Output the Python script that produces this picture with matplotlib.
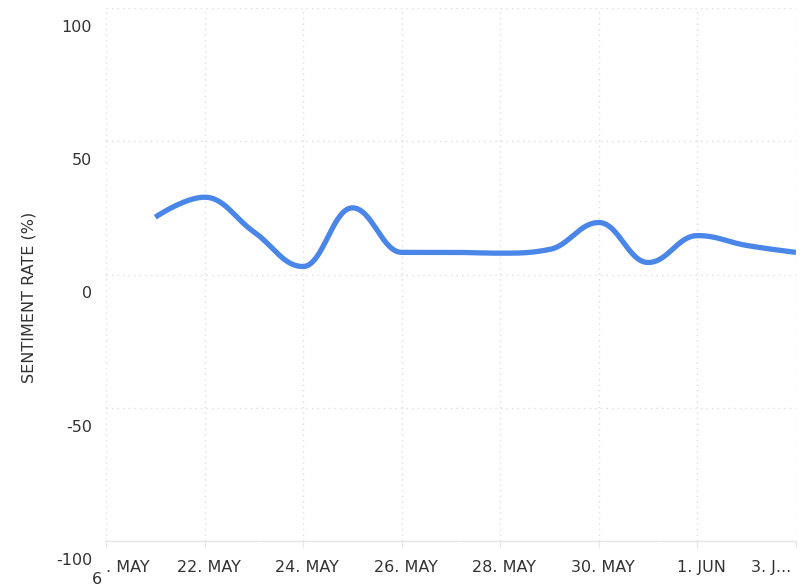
import numpy as np
import matplotlib
matplotlib.use("Agg")
import matplotlib.pyplot as plt
from matplotlib.transforms import ScaledTranslation

plt.rcParams["font.family"] = ["DejaVu Sans"]

# Data (day index: 0 = 20 May)
days = [1, 2, 3, 4, 5, 6, 7, 8, 9, 10, 11, 12, 13, 14]
values = [21.5, 29, 16, 3, 25, 8.3, 8.3, 8.0, 9.4, 19.5, 4.5, 14.6, 10.9, 8.3]
tick_days = [0, 2, 4, 6, 8, 10, 12, 14]
tick_labels = [". MAY", "22. MAY", "24. MAY", "26. MAY", "28. MAY", "30. MAY", "1. JUN", "3. J..."]
y_ticks = [-100, -50, 0, 50, 100]
y_tick_labels = ["-100", "-50", "0", "50", "100"]


def hc_spline(xs, ys, n=40):
    """Highcharts-style spline (cubic Bezier with non-overshooting control points)."""
    xs = np.asarray(xs, float)
    ys = np.asarray(ys, float)
    N = len(xs)
    lcx, lcy = xs.copy(), ys.copy()
    rcx, rcy = xs.copy(), ys.copy()
    sm = 1.5
    den = sm + 1
    for i in range(1, N - 1):
        x, y = xs[i], ys[i]
        lx, ly = xs[i - 1], ys[i - 1]
        nx, ny = xs[i + 1], ys[i + 1]
        lX = (sm * x + lx) / den
        lY = (sm * y + ly) / den
        rX = (sm * x + nx) / den
        rY = (sm * y + ny) / den
        if rX != lX:
            corr = ((rY - lY) * (rX - x)) / (rX - lX) + y - rY
            lY += corr
            rY += corr
        if lY > ly and lY > y:
            lY = max(ly, y)
            rY = 2 * y - lY
        elif lY < ly and lY < y:
            lY = min(ly, y)
            rY = 2 * y - lY
        if rY > ny and rY > y:
            rY = max(ny, y)
            lY = 2 * y - rY
        elif rY < ny and rY < y:
            rY = min(ny, y)
            lY = 2 * y - rY
        lcx[i], lcy[i], rcx[i], rcy[i] = lX, lY, rX, rY
    ox, oy = [], []
    t = np.linspace(0, 1, n, endpoint=False)[:, None]
    for i in range(1, N):
        P0 = np.array([xs[i - 1], ys[i - 1]])
        P1 = np.array([rcx[i - 1], rcy[i - 1]])
        P2 = np.array([lcx[i], lcy[i]])
        P3 = np.array([xs[i], ys[i]])
        B = ((1 - t) ** 3) * P0 + 3 * ((1 - t) ** 2) * t * P1 + 3 * (1 - t) * t**2 * P2 + t**3 * P3
        ox.append(B[:, 0])
        oy.append(B[:, 1])
    ox.append([xs[-1]])
    oy.append([ys[-1]])
    return np.concatenate(ox), np.concatenate(oy)


W, H = 811, 587
fig = plt.figure(figsize=(W / 100, H / 100), dpi=100)
ax = fig.add_axes([106 / W, (H - 541) / H, (796 - 106) / W, (541 - 8) / H])

text_color = "#333333"
grid_color = "#dddddd"

sx, sy = hc_spline(days, values)
ax.plot(sx, sy, color="#4a86e8", lw=3.8, solid_capstyle="butt", zorder=3)

ax.set_xlim(0, 14)
ax.set_ylim(-100, 100)

for s in ["top", "right", "left"]:
    ax.spines[s].set_visible(False)
ax.spines["bottom"].set_color("#e6e6e6")
ax.spines["bottom"].set_linewidth(1.0)

ax.set_xticks(tick_days)
ax.set_xticklabels(tick_labels)
ax.set_yticks(y_ticks)
ax.set_yticklabels(y_tick_labels)

ax.grid(True, color=grid_color, linestyle=(0, (1, 3)), linewidth=1.0)
ax.tick_params(axis="x", length=5, color="#e6e6e6", pad=9, labelsize=11.5, labelcolor=text_color)
ax.tick_params(axis="y", length=0, pad=10, labelsize=11.5, labelcolor=text_color)

for lab in ax.get_yticklabels():
    lab.set_transform(lab.get_transform() + ScaledTranslation(0, -18 / 100, fig.dpi_scale_trans))
xl = ax.get_xticklabels()
for i, lab in enumerate(xl):
    if i == 0:
        lab.set_horizontalalignment("left")
    elif i == len(xl) - 1:
        lab.set_transform(lab.get_transform() + ScaledTranslation(-25 / 100, 0, fig.dpi_scale_trans))
    else:
        lab.set_transform(lab.get_transform() + ScaledTranslation(4 / 100, 0, fig.dpi_scale_trans))

fig.text(97 / W, 1 - 579 / H, "6", ha="center", va="center", fontsize=11.5, color=text_color)

fig.text(29 / W, 1 - 297 / H, "SENTIMENT RATE (%)", rotation=90, ha="center", va="center",
         fontsize=11.5, color=text_color)

fig.savefig("out.png", dpi=100)
